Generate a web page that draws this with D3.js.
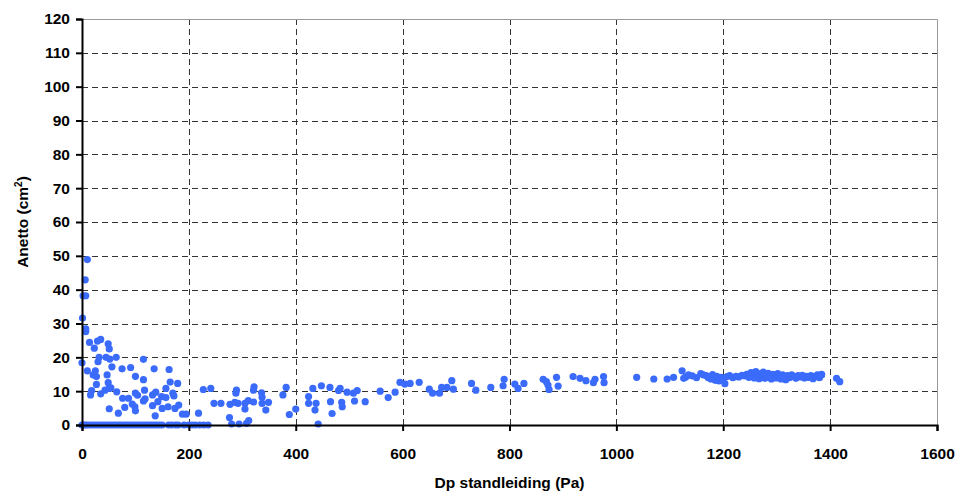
<!DOCTYPE html>
<html>
<head>
<meta charset="utf-8">
<script src="https://cdn.jsdelivr.net/npm/d3@7"></script>
<style>
  body { margin: 0; background: #fff; }
  text { font-family: Arial, "Liberation Sans", sans-serif; font-weight: bold; fill: #000; }
</style>
</head>
<body>
<div class="content"></div>
<script>
var width = 966
var height = 496
var margin = { top: 19, right: 29, bottom: 71, left: 82 }

// measurements: Dp standleiding (Pa) vs Anetto (cm2)
var dpValues = [
    0, 3, 6, 10, 15, 20, 25, 30, 35, 40, 45, 50, 55, 60, 65, 70, 75, 80, 85, 90, 95, 100, 105, 110, 115, 120, 125, 130, 135, 140, 145, 150, 162, 168, 175, 180, 191, 200, 206, 212, 220, 228, 236,
    10, 6, 2, 7, 1, 7, 7, 14, 23, 29, 35, 49, 51, 0, 32, 30, 45, 52, 64, 56, 10, 25, 21, 27, 47, 75, 91, 115, 100, 135, 163, 115, 165, 179, 27, 49, 51, 43, 54, 18, 16, 35, 65, 76, 87, 100, 104, 117, 115, 118, 94, 99, 100, 80, 51, 68, 132, 138, 142, 132, 149, 157, 157, 170, 172, 150, 161, 174, 181, 137, 188, 195,
    218, 227, 241, 247, 260, 276, 280, 294, 277, 286, 292, 289, 288, 305, 308, 312, 305, 311, 322, 321, 321, 336, 337, 337, 349, 344, 376, 382, 388, 400, 432, 424, 424, 436, 442, 448, 438, 464, 465, 468, 480, 483, 486, 487,
    496, 508, 515, 510, 530, 558, 573, 586, 595, 604, 614, 631, 650, 656, 669, 673, 683, 695, 692, 729, 737, 765, 790, 788, 810, 816, 827,
    863, 869, 874, 888, 891, 872, 919, 932, 943, 957, 960, 976, 977, 1038, 1070, 1095, 1107, 1123, 1126,
    1130, 1135, 1142, 1150, 1158, 1163, 1168, 1172, 1177, 1180, 1185, 1188, 1192, 1196, 1200, 1203, 1207, 1212, 1218, 1224, 1229, 1235, 1240, 1244, 1248, 1252, 1255, 1258, 1261, 1264, 1267, 1270, 1272, 1275, 1278, 1281, 1284, 1287, 1290, 1293, 1296, 1299, 1302, 1305, 1308, 1311, 1314, 1317, 1320, 1324, 1328, 1332, 1336, 1340, 1344, 1348, 1352, 1356, 1360, 1364, 1368, 1372, 1376, 1380, 1384,
    1375, 1384, 1412, 1418
]
var anettoValues = [
    0, 0, 0, 0, 0, 0, 0, 0, 0, 0, 0, 0, 0, 0, 0, 0, 0, 0, 0, 0, 0, 0, 0, 0, 0, 0, 0, 0, 0, 0, 0, 0, 0, 0, 0, 0, 0, 0, 0, 0, 0, 0, 0,
    48.9, 42.9, 38.2, 38.2, 31.6, 28.4, 27.6, 24.4, 22.7, 24.8, 25.3, 24.0, 22.5, 18.4, 20.0, 18.7, 20.0, 19.5, 20.0, 17.2, 16.0, 16.0, 14.8, 14.3, 14.8, 16.6, 17.0, 19.4, 14.4, 16.6, 16.4, 13.4, 12.7, 12.3, 12.0, 12.5, 10.8, 10.3, 11.0, 10.2, 8.9, 9.2, 9.8, 7.9, 7.9, 9.4, 8.8, 10.3, 7.1, 7.7, 6.2, 5.4, 4.2, 5.2, 4.8, 3.5, 8.9, 9.7, 6.9, 5.7, 8.4, 8.1, 10.8, 9.4, 8.6, 4.9, 5.4, 4.9, 5.9, 2.7, 3.2, 3.2,
    3.5, 10.5, 10.8, 6.4, 6.4, 2.2, 0.3, 0.3, 6.1, 6.7, 6.4, 10.3, 9.4, 4.7, 0.5, 1.3, 6.4, 7.2, 11.3, 10.3, 6.8, 9.5, 8.2, 6.4, 6.7, 4.4, 8.9, 11.1, 3.1, 4.7, 10.8, 8.4, 6.4, 4.4, 0.3, 11.6, 6.4, 11.1, 6.9, 3.4, 10.2, 10.8, 6.7, 5.4,
    9.7, 9.4, 10.2, 7.1, 6.9, 10.0, 8.1, 9.7, 12.6, 12.1, 12.3, 12.6, 10.6, 9.4, 9.4, 11.1, 11.1, 10.6, 13.1, 12.3, 10.3, 11.1, 13.5, 11.6, 12.1, 10.8, 12.3,
    13.5, 12.8, 10.5, 14.1, 11.5, 11.8, 14.3, 13.8, 13.1, 12.5, 13.5, 14.3, 12.5, 14.1, 13.6, 13.6, 14.1, 16.0, 13.8,
    14.2, 14.8, 14.5, 14.0, 15.2, 14.8, 14.6, 14.0, 13.6, 14.9, 13.2, 14.4, 13.0, 14.1, 13.5, 12.2, 14.3, 14.6, 14.0, 14.4, 14.2, 14.7, 14.5, 15.0, 14.1, 15.5, 14.8, 13.9, 15.8, 14.6, 13.7, 15.2, 14.4, 15.6, 13.8, 14.9, 15.3, 14.1, 13.6, 15.0, 14.5, 13.9, 15.2, 14.3, 13.6, 14.8, 14.2, 13.4, 14.6, 14.0, 14.8, 14.3, 13.8, 14.6, 14.2, 14.7, 13.9, 14.4, 14.1, 14.6, 13.7, 14.3, 14.8, 14.0, 15.0,
    14.3, 14.8, 13.8, 12.8
]

var xTicks = [0, 200, 400, 600, 800, 1000, 1200, 1400, 1600]
var yTicks = [0, 10, 20, 30, 40, 50, 60, 70, 80, 90, 100, 110, 120]

var points = dpValues.map(function(d, i) {
    return { x: d, y: anettoValues[i] }
})

var innerW = width - margin.left - margin.right
var innerH = height - margin.top - margin.bottom

var x = d3.scaleLinear().domain([0, 1600]).range([0, innerW])
var y = d3.scaleLinear().domain([0, 120]).range([innerH, 0])

var svg = d3.select('.content').append('svg')
    .attr('width', width)
    .attr('height', height)

var g = svg.append('g')
    .attr('transform', 'translate(' + margin.left + ',' + margin.top + ')')

// grid
g.append('g').selectAll('line')
    .data(yTicks.filter(function(d) { return d > 0 && d < 120 }))
    .enter().append('line')
    .attr('x1', 0).attr('x2', innerW)
    .attr('y1', function(d) { return Math.round(y(d)) + 0.5 })
    .attr('y2', function(d) { return Math.round(y(d)) + 0.5 })
    .attr('stroke', '#333')
    .attr('stroke-dasharray', '6,4')

g.append('g').selectAll('line')
    .data(xTicks.filter(function(d) { return d > 0 && d < 1600 }))
    .enter().append('line')
    .attr('y1', 0).attr('y2', innerH)
    .attr('x1', function(d) { return Math.round(x(d)) + 0.5 })
    .attr('x2', function(d) { return Math.round(x(d)) + 0.5 })
    .attr('stroke', '#333')
    .attr('stroke-dasharray', '6,4')

// top / right frame
g.append('path')
    .attr('d', 'M0,0.5H' + (innerW + 0.5) + 'V' + innerH)
    .attr('fill', 'none')
    .attr('stroke', '#999')

// points
g.append('g').selectAll('circle')
    .data(points)
    .enter().append('circle')
    .attr('cx', function(d) { return x(d.x) })
    .attr('cy', function(d) { return y(d.y) })
    .attr('r', 3.6)
    .attr('fill', '#3b6bfb')

// axes
var xAxis = g.append('g')
    .attr('transform', 'translate(0,' + innerH + ')')
    .call(d3.axisBottom(x).tickValues(xTicks).tickSize(6).tickPadding(17).tickFormat(d3.format('d')))
var yAxis = g.append('g')
    .call(d3.axisLeft(y).tickValues(yTicks).tickSize(6).tickPadding(6))

;[xAxis, yAxis].forEach(function(a) {
    a.select('.domain').attr('stroke', '#000').attr('stroke-width', 2)
    a.selectAll('.tick line').attr('stroke', '#000').attr('stroke-width', 2)
    a.selectAll('.tick text')
        .style('font-family', 'Arial, "Liberation Sans", sans-serif')
        .style('font-weight', 'bold')
        .style('font-size', '15.5px')
        .attr('fill', '#000')
})

// titles
svg.append('text')
    .attr('x', margin.left + innerW / 2)
    .attr('y', 488)
    .attr('text-anchor', 'middle')
    .style('font-size', '15.5px')
    .text('Dp standleiding (Pa)')

var yTitle = svg.append('text')
    .attr('transform', 'translate(28,' + (margin.top + innerH / 2) + ') rotate(-90)')
    .attr('text-anchor', 'middle')
    .style('font-size', '15.5px')
yTitle.append('tspan').text('Anetto (cm')
yTitle.append('tspan').attr('dy', -6).style('font-size', '10px').text('2')
yTitle.append('tspan').attr('dy', 6).text(')')
</script>
</body>
</html>
